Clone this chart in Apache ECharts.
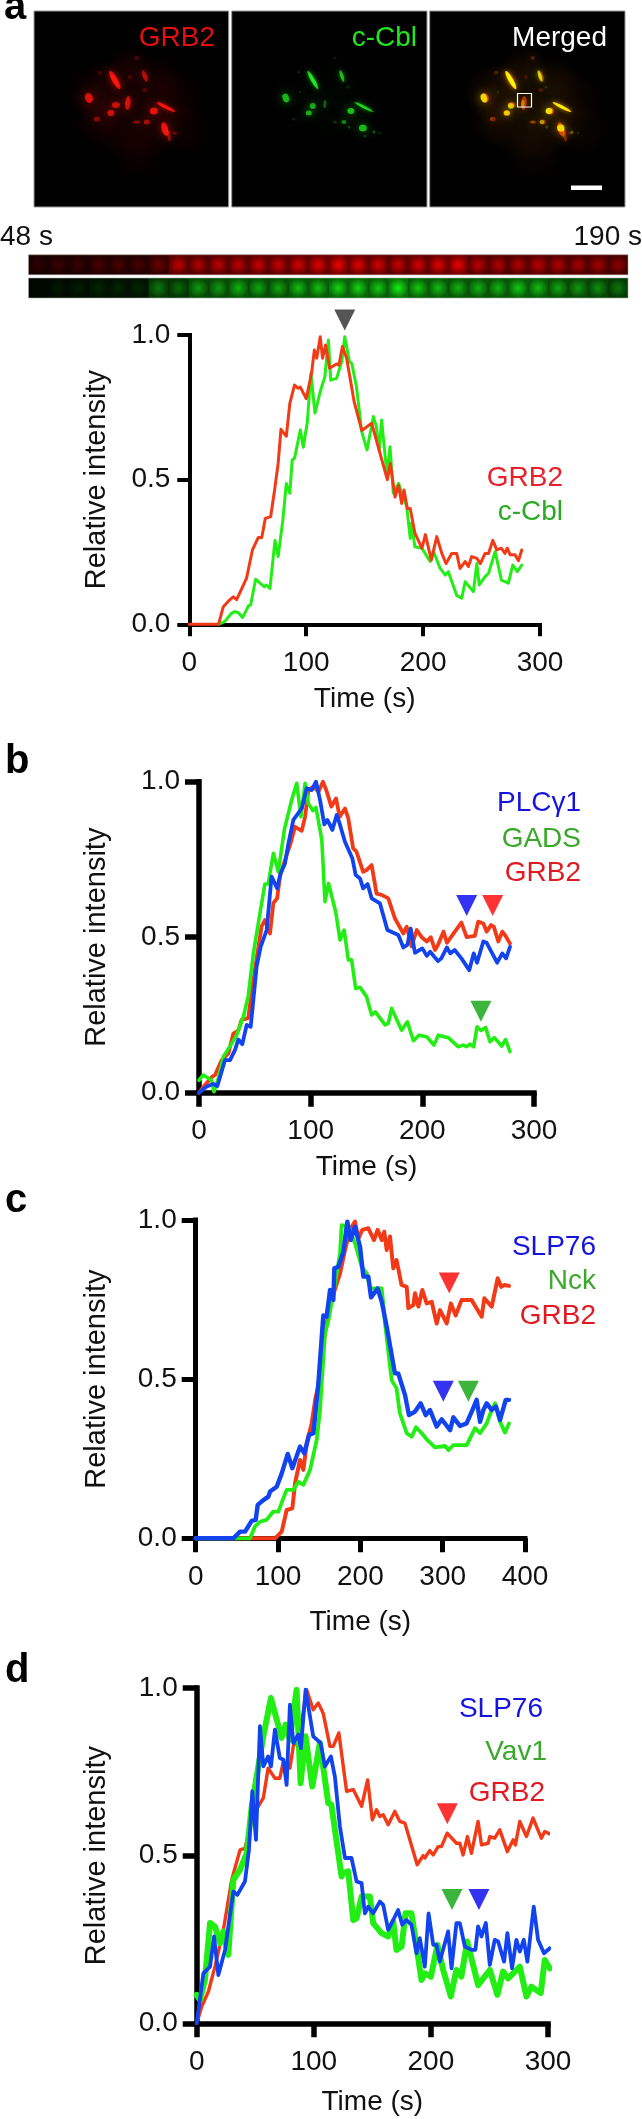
<!DOCTYPE html>
<html><head><meta charset="utf-8">
<style>html,body{margin:0;padding:0;background:#fff}#c{width:642px;height:2119px}</style>
<script src="https://cdn.jsdelivr.net/npm/echarts@6/dist/echarts.min.js"></script>
</head><body><div id="c"></div>
<script>
// ---------- panel a traces: [time (s), relative intensity]
const aGRB2=[[0,0],[25,0],[29,.06],[33.4,.08],[37.6,.095],[40.5,.085],[49,.16],[54,.257],[59,.3],[62,.3],[65,.366],[69.6,.372],[73,.465],[76,.556],[78.4,.674],[83,.65],[86,.764],[90,.827],[93,.816],[95,.82],[100,.78],[104.6,.868],[107,.948],[109,.92],[112,.994],[114,.92],[116.6,.965],[120,.885],[126,.9],[128,.896],[131,.96],[134.6,.92],[141,.77],[147.5,.67],[156,.695],[162.5,.6],[169.4,.5],[172,.556],[176,.44],[179,.48],[181.7,.418],[183.7,.464],[186.5,.4],[189,.4],[193,.315],[199,.263],[202,.31],[207,.222],[211.7,.303],[216,.245],[219.6,.21],[224.5,.245],[228.7,.245],[231.6,.193],[236,.217],[238.7,.2],[241.6,.234],[246,.228],[249,.21],[253,.245],[256,.245],[259.6,.29],[263,.257],[267,.263],[270,.245],[272,.263],[274.5,.24],[278.7,.24],[281.6,.22],[284.4,.257]];
const aCbl=[[25,0],[30.5,.01],[36,.038],[39,.044],[42,.04],[45.6,.023],[50.5,.063],[52.5,.067],[56.7,.156],[60.5,.142],[64,.13],[66,.136],[69,.124],[73.3,.29],[76,.234],[80,.36],[83,.487],[86,.453],[88,.568],[90,.574],[95,.672],[97.5,.612],[101,.7],[104,.868],[107.5,.73],[112.4,.81],[116,.856],[119,.983],[121,.844],[126,.85],[130.4,.908],[133,.994],[137,.908],[139,.902],[143,.821],[147.5,.666],[152,.603],[157.5,.718],[160,.683],[162.5,.603],[164.5,.706],[169,.522],[171.7,.614],[174.5,.453],[179,.487],[186,.407],[189,.297],[190,.349],[193,.268],[199,.263],[206,.217],[209,.251],[214.5,.194],[219,.17],[221.6,.182],[228.7,.1],[233,.09],[236,.147],[243,.113],[246,.21],[248,.136],[253,.165],[256,.176],[261.6,.251],[267,.153],[273,.142],[276.7,.205],[280.6,.182],[284.4,.205]];
const aMark=[[133,1.052]];
// ---------- panel b
const bGRB2=[[0,0],[5.4,.025],[11.3,.05],[14.3,.057],[20.3,.105],[26.3,.126],[30.7,.19],[35.2,.2],[38.2,.234],[44,.24],[50,.394],[56,.534],[59,.555],[63.6,.512],[66.6,.61],[70,.625],[72.5,.695],[77,.748],[81.5,.796],[86,.855],[92,.842],[95,.887],[98,.973],[102.4,.984],[107,.968],[111,1],[114,.973],[118.5,.92],[122.7,.946],[126,.887],[130.7,.914],[133.7,.882],[138,.786],[141,.775],[147,.71],[150,.716],[154.6,.732],[159,.64],[163.6,.636],[169.5,.625],[175.5,.56],[183,.512],[186,.534],[190.4,.47],[195,.523],[199.4,.5],[204,.486],[207.5,.5],[211.3,.459],[214,.475],[219,.518],[222,.482],[228,.512],[235,.547],[239.7,.5],[247,.504],[250,.55],[254.6,.544],[257.6,.518],[261.5,.539],[264,.534],[268,.486],[271.6,.518],[274,.507],[278.5,.48]];
const bPLC=[[0,0],[6.9,.02],[12.8,.028],[16.4,.021],[23.3,.105],[27.8,.105],[32.2,.137],[35.2,.171],[38.8,.156],[42.7,.218],[46.3,.212],[51.6,.405],[55.2,.469],[60.6,.523],[65,.695],[70,.657],[73,.705],[77,.737],[80,.8],[84.5,.877],[92,.914],[96.4,.979],[100.9,.973],[104.8,1],[108.4,.941],[112.2,.863],[115,.877],[119.4,.845],[123.3,.893],[126.3,.861],[130.7,.807],[137.3,.754],[140.3,.7],[144.2,.689],[147,.657],[151,.671],[154.6,.625],[162,.609],[168.7,.523],[178.5,.507],[183,.467],[186.6,.475],[189.6,.528],[193.4,.45],[200,.464],[204,.44],[207,.453],[214,.423],[217,.432],[222,.467],[225,.448],[229,.459],[235,.432],[242,.394],[246,.448],[249,.418],[254.6,.486],[257.6,.482],[267,.418],[271.6,.448],[275,.432],[278.5,.469]];
const bGADS=[[0,.04],[3.9,.057],[11.3,.04],[13.4,.003],[17.3,.046],[21.8,.116],[28.4,.153],[33.7,.185],[39.7,.244],[44,.309],[48.7,.448],[54.6,.577],[59,.671],[62,.671],[66.6,.77],[71,.71],[76.4,.845],[83,.941],[87.5,.995],[91.3,.887],[95,.995],[98,.93],[102,.907],[104.8,.917],[110,.812],[112.8,.614],[116,.673],[122.4,.582],[126.3,.491],[130,.523],[133.7,.427],[136.7,.427],[140.3,.335],[144.2,.339],[150,.309],[154.6,.25],[158,.26],[166.6,.218],[169.5,.223],[172.5,.271],[181.5,.201],[186.6,.228],[192,.167],[197,.185],[204,.18],[210.4,.153],[214.3,.185],[223.3,.177],[232,.148],[236.7,.153],[239.7,.148],[242.7,.156],[246,.148],[249,.212],[252.5,.2],[256.7,.21],[260.6,.164],[264.5,.177],[271,.15],[274.6,.171],[278.5,.132]];
const bMarkBlue=[[239.7,.602]], bMarkRed=[[263,.602]], bMarkGreen=[[252.5,.2615]];
// ---------- panel c
const cGRB2=[[0,0],[96.4,0],[104.5,.021],[110.5,.089],[117.4,.094],[120.7,.173],[126.7,.246],[130.8,.215],[134.8,.298],[140.9,.361],[145.8,.445],[151,.497],[153.9,.592],[159,.675],[165,.749],[175.3,.832],[181.4,.906],[187.5,.969],[193.5,.995],[197.6,.942],[202.4,.969],[209.7,.974],[216.6,.937],[221,.969],[226,.937],[229,.963],[232,.906],[236,.948],[240,.848],[244,.874],[250,.796],[256.3,.79],[258.3,.723],[264.4,.733],[266.4,.77],[270.5,.728],[275.3,.78],[280.6,.738],[286.7,.743],[292.7,.675],[296.8,.717],[304.9,.675],[310,.738],[315.8,.7],[323,.749],[335,.749],[347.4,.696],[350.6,.754],[359.6,.728],[366.8,.817],[371,.79],[375,.796],[380.6,.793]];
const cSLP=[[0,0],[45.8,0],[53.9,.021],[60,.021],[68,.055],[72.9,.058],[75.3,.105],[82.2,.12],[88.3,.131],[90.3,.147],[98.4,.162],[104.5,.204],[111.8,.265],[117.4,.22],[126.7,.288],[132,.267],[137.7,.325],[143,.33],[149,.487],[155,.7],[159,.696],[163.2,.78],[167.2,.749],[168.4,.848],[173.3,.853],[179.4,.9],[184.2,.995],[188.3,.937],[193.5,.979],[199.6,.916],[203.7,.822],[209.7,.822],[213,.757],[221,.785],[226,.743],[232,.665],[242,.518],[246,.518],[254.3,.45],[259,.387],[266.4,.398],[273.3,.424],[279.4,.387],[284.6,.403],[292.7,.351],[298.8,.374],[309,.34],[313,.38],[321,.353],[329,.361],[335.3,.398],[341.3,.435],[345.4,.366],[349.4,.403],[353.5,.424],[359.5,.403],[364.8,.414],[369.7,.372],[376.6,.435],[380.6,.435]];
const cNck=[[0,0],[66,0],[72,.037],[78,.052],[86,.058],[94.3,.084],[100.4,.084],[106.5,.126],[110.5,.152],[118.6,.152],[124.7,.178],[130.8,.168],[138.9,.215],[147,.309],[151,.403],[157,.644],[161,.681],[167.2,.77],[175.3,.895],[177.3,.984],[185.4,.979],[193.5,.927],[201.6,.853],[207.7,.832],[212,.785],[226,.785],[230,.675],[238,.497],[244,.471],[248,.393],[256.3,.33],[262.4,.319],[267.6,.349],[274.5,.33],[280.6,.311],[290.7,.286],[302.9,.29],[307,.277],[313,.293],[329.2,.293],[339.3,.346],[345.4,.33],[353.5,.361],[359.5,.403],[363.6,.424],[369.7,.366],[375.7,.332],[380.6,.361]];
const cMarkRed=[[308,.802]], cMarkBlue=[[300.8,.462]], cMarkGreen=[[331.2,.462]];
// ---------- panel d
const dGRB2=[[0,0],[4.3,.05],[10,.095],[15.6,.169],[22.8,.279],[29.9,.428],[37,.517],[41.2,.522],[47,.607],[52.6,.647],[56.9,.672],[61,.761],[66.8,.731],[71,.731],[74,.781],[79.6,.761],[82.5,.826],[88,.861],[93.9,.995],[99.5,.935],[103.8,.955],[108,.925],[113.8,.826],[116.6,.826],[121.4,.866],[128,.692],[133.7,.697],[140.8,.647],[146,.726],[150,.607],[153.6,.637],[156.4,.617],[159.3,.622],[163.5,.592],[169.2,.632],[173.5,.602],[177.8,.597],[188.3,.473],[193.4,.5],[194.8,.493],[199,.515],[202,.502],[206.2,.527],[209,.527],[213.9,.567],[221.8,.537],[224.7,.537],[227.5,.502],[231.2,.557],[234.6,.507],[240.3,.602],[243.2,.532],[248.9,.537],[250.3,.557],[254.5,.552],[258.8,.577],[265.3,.512],[270.2,.547],[272.2,.532],[275.9,.602],[281.6,.557],[287.2,.612],[294.3,.552],[297.2,.572],[301.5,.565]];
const dVav=[[0,.085],[2.8,.07],[7,.129],[11.4,.299],[15.6,.289],[19.9,.239],[22.8,.274],[27,.204],[31.3,.428],[37,.458],[42.7,.507],[47,.647],[56.9,.856],[63.4,.97],[72.5,.851],[76,.891],[79.6,.846],[85.3,.995],[88.7,.716],[93,.856],[98.7,.706],[105.2,.836],[112.3,.657],[115,.652],[123.7,.438],[125,.448],[129.4,.453],[133.7,.308],[136.5,.313],[140.8,.378],[147.9,.378],[150.7,.299],[157.8,.269],[163.5,.259],[167.8,.303],[170.6,.219],[175,.229],[178.3,.328],[183.4,.328],[187.7,.229],[192,.129],[194.8,.149],[200,.139],[205.6,.234],[210.5,.159],[217,.08],[221.8,.159],[226,.139],[231,.244],[240.3,.114],[250.3,.159],[256.8,.085],[261.6,.154],[266,.134],[275.9,.169],[281.6,.08],[285.8,.109],[293.8,.09],[297.2,.189],[301.5,.164]];
const dSLP=[[0,0],[5.7,.149],[11.4,.169],[14.8,.259],[18.5,.144],[24.2,.219],[31.3,.393],[34.7,.383],[41.2,.423],[44.6,.517],[47.5,.692],[50.6,.547],[54,.886],[56.9,.766],[61,.796],[63.4,.766],[66.8,.876],[71,.791],[74,.786],[76.8,.711],[79.6,.95],[82.5,.836],[86.7,.861],[89,.821],[93,.995],[99.5,.856],[105.8,.836],[109.5,.766],[114.6,.796],[118,.736],[122.3,.587],[126.6,.493],[132.2,.493],[136.5,.423],[140.8,.418],[143.6,.328],[146.5,.348],[150.7,.328],[156.4,.363],[159.3,.353],[163.5,.279],[167.8,.308],[172,.338],[175.5,.294],[179,.308],[183.4,.294],[187.7,.209],[190.5,.254],[194.8,.169],[198,.328],[202,.234],[204.8,.234],[207.6,.184],[214.7,.274],[217.6,.164],[221.8,.299],[224.7,.299],[229,.229],[234.6,.219],[238,.219],[240.3,.289],[243.2,.259],[246.9,.299],[250.3,.174],[254.5,.249],[257.4,.244],[262.5,.184],[265.3,.269],[269.3,.164],[273,.249],[275.9,.214],[279.3,.249],[282.4,.184],[287.8,.348],[291.5,.249],[296.6,.209],[301.5,.224]];
const dMarkRed=[[214,.625]], dMarkGreen=[[218,.369]], dMarkBlue=[[241,.369]];
// ---------- kymograph strip: brightness of each of the 30 frames
const frames=["48","53","58","63","68","73","78","83","88","93","98","103","108","113","118","123","128","133","138","143","148","153","158","163","168","173","178","183","186","190"];
const stripRed=[.2,.25,.25,.3,.3,.3,.45,.8,.75,.8,.8,.85,.85,.9,.95,1,.95,.9,.85,.9,.95,1,.8,.75,.75,.8,.75,.7,.7,.6];
const stripGreen=[.05,.1,.12,.15,.15,.15,.5,.45,.65,.65,.75,.7,.7,.8,.8,.9,.9,.85,1,.85,.8,.75,.75,.75,.85,.8,.7,.65,.6,.5];
// ---------- microscopy image features: [x, y, length, width, angle, brightness]
const redSpots=[[81,69,21,5.5,-60,1],[111,65,12,4.5,-70,.75],[55,87,10,8,-70,1],[82,94,8,6,0,.85],[77,102,7,6,0,.9],[94,92,14,5.5,85,.85],[63,108,6,5,0,.6],[120,100,8,7,0,1],[132,96,21,3.5,-27,.95],[103,111,7,3,0,.6],[113,111,6,5,0,.75],[131,118,14,6.5,-75,1],[135,125,11,3,-80,.65],[141,122,5,3,0,.45],[103,47,5,4,0,.35],[66,62,5,4,0,.3],[111,79,5,4,0,.35],[96,66,4,4,0,.3]];
const greenSpots=[[81,69,21,4,-60,1],[110,65,12,3.5,-72,.9],[54,87,9,6.5,-70,.95],[81,95,6,6,0,.9],[77,102,6,5,0,.9],[93,93,8,3,85,.5],[119,100,7,6,0,1],[132,96,21,3,-27,1],[112,111,5,4,0,.7],[103,111,4,3,0,.3],[131,117,8,7,0,.95],[142,121,3,3,0,.5],[117,116,3,3,0,.4],[62,108,4,3,0,.2],[103,47,3,3,0,.16],[67,61,4,3,0,.18],[68,81,3,3,0,.2],[116,76,3,3,0,.25],[133,125,3,3,0,.3],[148,122,3,3,0,.22]];
const redHaze=[[100,95,110,.17],[62,80,62,.09],[62,112,50,.08],[142,88,62,.08],[150,118,58,.08],[105,140,60,.08],[95,55,46,.08],[130,65,44,.05]];
const greenHaze=[[100,90,90,.05]];
const mergedBox=[517.5,93.5,14,13.5], scaleBar=[571,185.5,31,4.5];
// ---------- axes and text
const yMax=1, yStep=.5, xStep=100, xMaxABD=300, xMaxC=400;
const FONT='"Liberation Sans",Arial,sans-serif', RED='#f23a17', GREEN='#22ee14', BLUE='#1144ee';
const TRI_RED='#ff0000', TRI_BLUE='#0000ee', TRI_GREEN='#0aa30a', TRI_GREY='#2b2b2b';

const grids=[],xAxes=[],yAxes=[],series=[];
function plot(x0,x1,y1,y0,xMax,axisW,tickLen,xNameGap){
  const i=grids.length;
  grids.push({left:x0,top:y1,width:x1-x0,height:y0-y1,containLabel:false});
  const line={show:true,onZero:false,lineStyle:{color:'#000',width:axisW,cap:'square'}};
  const tick={show:true,length:tickLen,lineStyle:{color:'#000',width:axisW}};
  xAxes.push({type:'value',gridIndex:i,min:0,max:xMax,interval:xStep,splitLine:{show:false},axisLine:line,axisTick:tick,
    axisLabel:{color:'#111',fontFamily:FONT,fontSize:28,margin:25,hideOverlap:false,showMinLabel:true,showMaxLabel:true},
    name:'Time (s)',nameLocation:'middle',nameGap:xNameGap,nameTextStyle:{color:'#111',fontFamily:FONT,fontSize:28}});
  yAxes.push({type:'value',gridIndex:i,min:0,max:yMax,interval:yStep,splitLine:{show:false},axisLine:line,axisTick:tick,
    axisLabel:{color:'#111',fontFamily:FONT,fontSize:28,margin:19,formatter:v=>v.toFixed(1),showMinLabel:true,showMaxLabel:true},
    name:'Relative intensity',nameLocation:'middle',nameRotate:90,nameGap:x0-111,nameTextStyle:{color:'#111',fontFamily:FONT,fontSize:29}});
  return i;
}
function trace(i,data,color,w,name){series.push({type:'line',name,xAxisIndex:i,yAxisIndex:i,data,showSymbol:false,clip:false,silent:true,animation:false,z:3,
  lineStyle:{color,width:w,join:'round',cap:'round'},itemStyle:{color}});}
function mark(i,data,color){series.push({type:'scatter',xAxisIndex:i,yAxisIndex:i,data,symbol:'triangle',symbolRotate:180,symbolSize:[21,21],clip:false,silent:true,animation:false,z:5,itemStyle:{color}});}

const pa=plot(189.3,540,335,624.3,xMaxABD,4,12,61);
trace(pa,aCbl,GREEN,3,'c-Cbl');trace(pa,aGRB2,RED,3,'GRB2');mark(pa,aMark,TRI_GREY);
const pb=plot(199,534,781.7,1092.7,xMaxABD,5.5,14,61);
trace(pb,bGRB2,RED,3.8,'GRB2');trace(pb,bGADS,GREEN,3.6,'GADS');trace(pb,bPLC,BLUE,3.8,'PLCγ1');
mark(pb,bMarkBlue,TRI_BLUE);mark(pb,bMarkRed,TRI_RED);mark(pb,bMarkGreen,TRI_GREEN);
const pc=plot(195.7,525,1220,1538.3,xMaxC,5,14,70);
trace(pc,cGRB2,RED,4,'GRB2');trace(pc,cNck,GREEN,3.8,'Nck');trace(pc,cSLP,BLUE,4.4,'SLP76');
mark(pc,cMarkRed,TRI_RED);mark(pc,cMarkBlue,TRI_BLUE);mark(pc,cMarkGreen,TRI_GREEN);
const pd=plot(196.7,548,1688,2023.3,xMaxABD,5.5,14,65);
trace(pd,dGRB2,RED,3.4,'GRB2');trace(pd,dVav,GREEN,6,'Vav1');trace(pd,dSLP,BLUE,3.8,'SLP76');
mark(pd,dMarkRed,TRI_RED);mark(pd,dMarkGreen,TRI_GREEN);mark(pd,dMarkBlue,TRI_BLUE);

// microscopy panels
function imagePanel(left,right){
  const i=grids.length;
  grids.push({left,top:11,width:right-left,height:196,show:true,backgroundColor:'#000',borderColor:'#999',borderWidth:1});
  xAxes.push({type:'value',gridIndex:i,min:0,max:195,show:false});
  yAxes.push({type:'value',gridIndex:i,min:0,max:196,inverse:true,show:false});
  return i;
}
function haze(i,data,rgb){series.push({type:'scatter',xAxisIndex:i,yAxisIndex:i,blendMode:'lighter',data:data.map(d=>({value:[d[0],d[1]],symbolSize:d[2],itemStyle:{color:{type:'radial',x:.5,y:.5,r:.5,colorStops:[{offset:0,color:`rgba(${rgb},${d[3]})`},{offset:.6,color:`rgba(${rgb},${d[3]*.6})`},{offset:1,color:`rgba(${rgb},0)`}]}}})),silent:true,animation:false,z:2});}
function spots(i,data,rgb){series.push({type:'scatter',xAxisIndex:i,yAxisIndex:i,blendMode:'lighter',data:data.map(d=>({value:[d[0],d[1]],symbol:'circle',symbolSize:[d[2],d[3]],symbolRotate:d[4],
  itemStyle:{color:`rgba(${rgb},${d[5]*.8})`,shadowBlur:Math.max(5,d[3]*1.4),shadowColor:`rgba(${rgb},${d[5]})`}})),silent:true,animation:false,z:3});}
const imR=imagePanel(34,228.7), imG=imagePanel(231.7,427), imM=imagePanel(429.7,625);
haze(imR,redHaze,'190,0,0');spots(imR,redSpots,'255,20,10');
haze(imG,greenHaze,'0,130,0');spots(imG,greenSpots,'30,240,30');
haze(imM,redHaze,'170,70,0');haze(imM,greenHaze,'0,110,0');spots(imM,redSpots,'215,50,0');spots(imM,greenSpots,'90,215,0');

// kymograph strips
function strip(top,values,rgb){
  const i=grids.length;
  grids.push({left:28.5,top,width:599.5,height:20,show:true,backgroundColor:'#000',borderColor:'#aaa',borderWidth:.6});
  xAxes.push({type:'category',gridIndex:i,data:frames,show:false,boundaryGap:true});
  yAxes.push({type:'value',gridIndex:i,min:0,max:1,show:false});
  series.push({type:'bar',xAxisIndex:i,yAxisIndex:i,barCategoryGap:0,silent:true,animation:false,z:2,
    data:values.map(v=>({value:1,itemStyle:{color:`rgba(${rgb},${v*.5})`}}))});
  series.push({type:'scatter',xAxisIndex:i,yAxisIndex:i,silent:true,animation:false,z:3,clip:true,symbolSize:20,blendMode:'lighter',
    data:values.map((v,k)=>({value:[k,.5],itemStyle:{color:{type:'radial',x:.5,y:.5,r:.5,colorStops:[{offset:0,color:`rgba(${rgb},${v*.7})`},{offset:1,color:`rgba(${rgb},0)`}]}}}))});
}
strip(254.8,stripRed,'225,0,0');
strip(278,stripGreen,'20,225,20');

function text(t,x,y,fill,align,font){return {type:'text',silent:true,z:20,style:{text:t,x,y,fill,align:align||'left',verticalAlign:'middle',font:font||`28px ${FONT}`}};}
const bold=`bold 40px ${FONT}`;
const graphic=[
  text('a',4,8,'#000','left',bold),text('b',5,762,'#000','left',bold),text('c',5,1201,'#000','left',bold),text('d',5,1671,'#000','left',bold),
  text('GRB2',215,38,'#e41010','right'),text('c-Cbl',417,38,'#22e622','right'),text('Merged',607,38,'#fff','right'),
  text('48 s',0,237,'#111'),text('190 s',642,237,'#111','right'),
  {type:'rect',silent:true,z:20,shape:{x:mergedBox[0],y:mergedBox[1],width:mergedBox[2],height:mergedBox[3]},style:{fill:'none',stroke:'#fff',lineWidth:1.2}},
  {type:'rect',silent:true,z:20,shape:{x:scaleBar[0],y:scaleBar[1],width:scaleBar[2],height:scaleBar[3]},style:{fill:'#fff'}},
  text('GRB2',563,478,'#e8202a','right'),text('c-Cbl',563,512,'#2aaa22','right'),
  text('PLCγ1',581,803,'#1414dc','right'),text('GADS',581,839,'#3aa82a','right'),text('GRB2',581,873,'#e01a22','right'),
  text('SLP76',596,1247,'#1414dc','right'),text('Nck',596,1281,'#3aa82a','right'),text('GRB2',596,1316,'#e01a22','right'),
  text('SLP76',543,1709,'#1414dc','right'),text('Vav1',547,1752,'#3aa82a','right'),text('GRB2',545,1793,'#e01a22','right')
];
const chart=echarts.init(document.getElementById('c'),null,{renderer:'canvas'});
chart.setOption({animation:false,backgroundColor:'#fff',grid:grids,xAxis:xAxes,yAxis:yAxes,series,graphic,tooltip:{show:false},legend:{show:false}});
</script></body></html>
